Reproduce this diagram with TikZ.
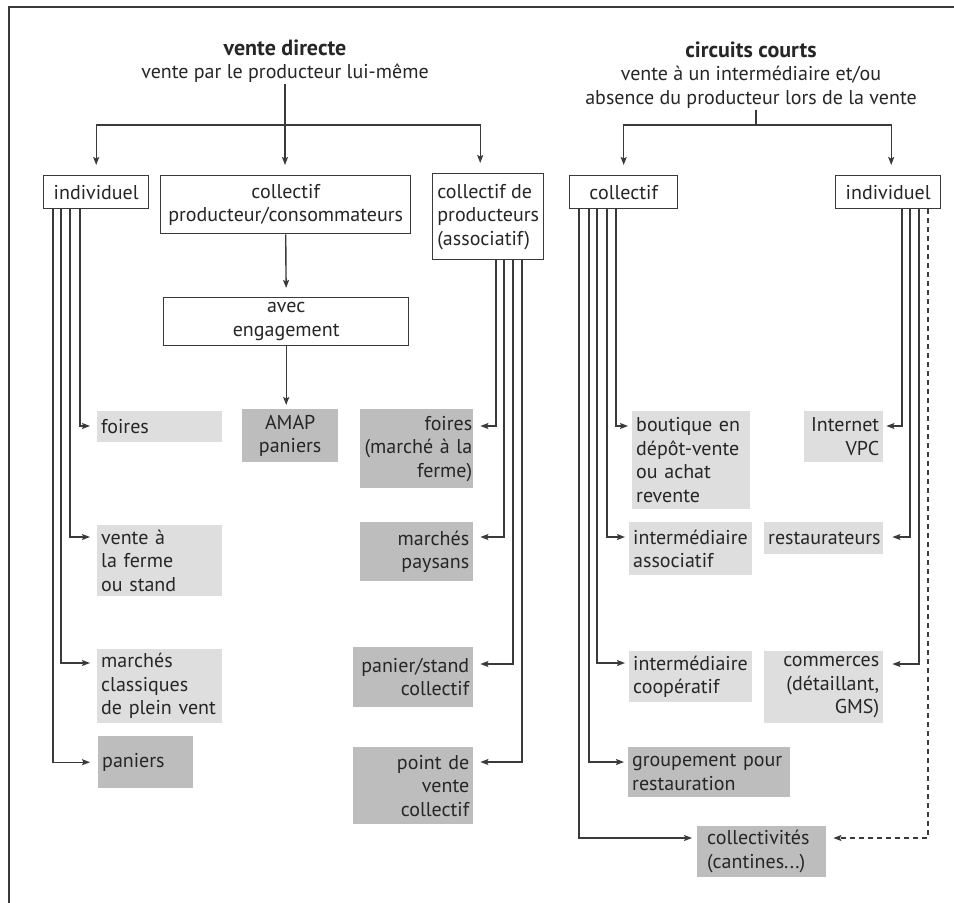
\documentclass[tikz,border=0pt]{standalone}
\usepackage{fontspec}
\setmainfont{PT Sans}
\usetikzlibrary{arrows.meta,calc}
\definecolor{lineC}{HTML}{3A3A3A}
\definecolor{lightG}{HTML}{DEDEDE}
\definecolor{darkG}{HTML}{BDBDBD}
\definecolor{txtC}{HTML}{262626}
\newcommand\fsz{\fontsize{20pt}{23.5pt}\selectfont}
\newcommand\tsz{\fontsize{22pt}{23.5pt}\selectfont}
\begin{document}
\begin{tikzpicture}[x=1pt,y=-1pt,
  every node/.style={font=\fsz, text=txtC},
  wbox/.style={draw=lineC, line width=1.4pt, fill=white, anchor=north west, inner xsep=4pt, inner ysep=0pt, align=center},
  lbox/.style={fill=lightG, anchor=north west, inner xsep=4pt, inner ysep=0pt},
  dbox/.style={fill=darkG, anchor=north west, inner xsep=4pt, inner ysep=0pt},
  conn/.style={draw=lineC, line width=1.4pt},
  arr/.style={conn, -{Stealth[length=8pt,width=6pt,inset=1.5pt]}},
  dashconn/.style={arr, dash pattern=on 5pt off 4pt}
]
\useasboundingbox (0,0) rectangle (954,903);
% frame
\draw[conn] (9,903) -- (9,7) -- (954,7);

% headings
\node[align=center, inner sep=1pt] (vdh) at (285,61) {{\tsz\bfseries vente directe}\\vente par le producteur lui-même};
\node[align=center, inner sep=1pt] (cch) at (751,75) {{\tsz\bfseries circuits courts}\\vente à un intermédiaire et/ou\\absence du producteur lors de la vente};

% white boxes
\node[wbox, minimum width=105pt, minimum height=33pt] (ind1) at (43,175) {individuel};
\node[wbox, minimum width=250pt, minimum height=58pt] (coll1) at (160,175) {collectif\\producteur/consommateurs};
\node[wbox, minimum width=111pt, minimum height=86pt, align=left] (cp) at (432,173) {collectif de\\producteurs\\(associatif)};
\node[wbox, minimum width=245pt, minimum height=48pt] (avec) at (163,297) {avec\\engagement};
\node[wbox, minimum width=108pt, minimum height=33pt] (cc1) at (569,175) {collectif};
\node[wbox, minimum width=105pt, minimum height=33pt] (ci1) at (835,175) {individuel};

% grey boxes, vente directe
\node[lbox, align=left, text width=117pt, minimum height=31pt] (foiresA) at (97,411) {foires};
\node[lbox, align=left, text width=117pt, minimum height=71pt] (venteA) at (97,525) {vente à\\la ferme\\ou stand};
\node[lbox, align=left, text width=117pt, minimum height=74pt] (marchesA) at (97,649) {marchés\\classiques\\de plein vent};
\node[dbox, align=left, text width=87pt, minimum height=52pt] (paniersA) at (98,736) {paniers};
\node[dbox, align=center, text width=88pt, minimum height=53pt] (amap) at (242,409) {AMAP\\paniers};
\node[dbox, align=right, inner xsep=1pt, text width=111pt, minimum height=79pt] (foiresB) at (360,409) {foires\\(marché à la\\ferme)};
\node[dbox, align=right, text width=105pt, minimum height=59pt] (paysansB) at (360,522) {marchés\\paysans};
\node[dbox, align=right, text width=112pt, minimum height=60pt] (panierB) at (353,647) {panier/stand\\collectif};
\node[dbox, align=right, text width=112pt, minimum height=77pt] (pointB) at (353,747) {point de\\vente\\collectif};

% grey boxes, circuits courts
\node[lbox, align=left, text width=110pt, minimum height=98pt] (boutique) at (632,411) {boutique en\\dépôt-vente\\ou achat\\revente};
\node[lbox, align=left, text width=115pt, minimum height=53pt] (interA) at (629,522) {intermédiaire\\associatif};
\node[lbox, align=left, text width=115pt, minimum height=51pt] (interC) at (629,651) {intermédiaire\\coopératif};
\node[dbox, align=left, text width=154pt, minimum height=50pt] (groupe) at (628,747) {groupement pour\\restauration};
\node[dbox, align=left, inner xsep=10pt, text width=109pt, minimum height=51pt] (collect) at (697,826) {collectivités\\(cantines...)};
\node[lbox, align=right, text width=71pt, minimum height=51pt] (internet) at (804,411) {Internet\\VPC};
\node[lbox, align=right, text width=111pt, minimum height=32pt] (resto) at (764,522) {restaurateurs};
\node[lbox, align=right, text width=111pt, minimum height=72pt] (commerces) at (764,651) {commerces\\(détaillant,\\GMS)};

% top connectors, vente directe
\coordinate (vbar) at (285,125);
\draw[arr, shorten >=10pt] (vdh.south) -- (vdh.south |- coll1.north);
\draw[arr, shorten >=10pt] (vbar) -| (ind1.north);
\draw[arr, shorten >=10pt] (vbar) -| ([xshift=-8pt]cp.north);
\draw[arr, shorten >=9pt] (coll1.south) -- (avec.north);
\draw[arr, shorten >=4pt] (avec.south) -- (avec.south |- amap.north);

% top connectors, circuits courts
\coordinate (cbar) at (756,125);
\draw[conn] (cch.south -| cbar) -- (cbar);
\draw[arr, shorten >=10pt] (cbar) -| (cc1.north);
\draw[arr, shorten >=10pt] (cbar) -| ([xshift=3pt]ci1.north);

% individuel (vente directe)
\draw[arr] ($(ind1.south west)+(37,0)$) |- ([xshift=-7pt,yshift=-15pt]foiresA.north west);
\draw[arr] ($(ind1.south west)+(27,0)$) |- ([xshift=-7pt,yshift=-12pt]venteA.north west);
\draw[arr] ($(ind1.south west)+(18,0)$) |- ([xshift=-7pt,yshift=-14pt]marchesA.north west);
\draw[arr] ($(ind1.south west)+(10,0)$) |- ([xshift=-8pt]paniersA.west);

% collectif de producteurs
\draw[arr] ($(cp.south west)+(64,0)$) |- ([xshift=7pt,yshift=-17pt]foiresB.north east);
\draw[arr] ($(cp.south west)+(72,0)$) |- ([xshift=7pt,yshift=-15pt]paysansB.north east);
\draw[arr] ($(cp.south west)+(81,0)$) |- ([xshift=7pt,yshift=-17pt]panierB.north east);
\draw[arr] ($(cp.south west)+(90,0)$) |- ([xshift=7pt,yshift=-15pt]pointB.north east);

% collectif (circuits courts)
\draw[arr] ($(cc1.south west)+(47,0)$) |- ([xshift=-4pt,yshift=-15pt]boutique.north west);
\draw[arr] ($(cc1.south west)+(38,0)$) |- ([xshift=-4pt,yshift=-15pt]interA.north west);
\draw[arr] ($(cc1.south west)+(28,0)$) |- ([xshift=-4pt,yshift=-12pt]interC.north west);
\draw[arr] ($(cc1.south west)+(20,0)$) |- ([xshift=-4pt,yshift=-15pt]groupe.north west);
\draw[arr] ($(cc1.south west)+(10,0)$) |- ([xshift=-5pt,yshift=-12pt]collect.north west);

% individuel (circuits courts)
\draw[arr] ($(ci1.south west)+(67,0)$) |- ([xshift=3pt,yshift=-15pt]internet.north east);
\draw[arr] ($(ci1.south west)+(75,0)$) |- ([xshift=9pt,yshift=-15pt]resto.north east);
\draw[arr] ($(ci1.south west)+(84,0)$) |- ([xshift=9pt,yshift=-13pt]commerces.north east);
\draw[dashconn] ($(ci1.south west)+(93,0)$) |- ([xshift=7pt,yshift=-12pt]collect.north east);
\end{tikzpicture}
\end{document}
